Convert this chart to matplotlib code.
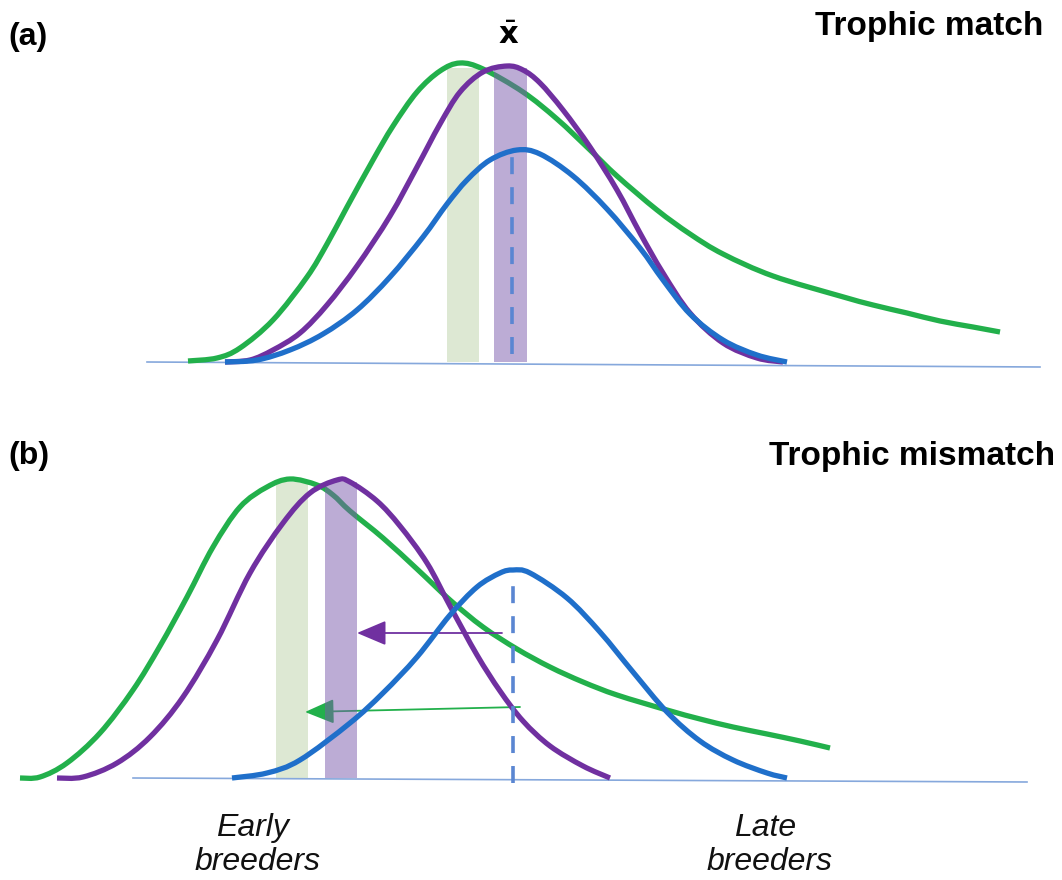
import matplotlib
matplotlib.use("Agg")
import matplotlib.pyplot as plt
from matplotlib.path import Path
from matplotlib.patches import PathPatch

W, H = 1062, 880

# ---------------- data (x = timing, y = height above baseline) ----------------
# Panel (a): trophic match
a_green_x = [188, 217, 240, 273, 307, 327, 347, 373, 393, 417, 440, 460, 483, 523, 557, 590, 617, 657, 690, 723, 773, 840, 873, 907, 940, 973, 1000]
a_green_y = [1, 4, 14, 42, 85, 118, 155, 202, 236, 270, 291, 299, 293, 270, 243, 212, 186, 152, 128, 108, 86, 66, 57, 49, 41, 35, 30]
a_purple_x = [225, 250, 273, 300, 327, 357, 390, 417, 440, 460, 483, 507, 523, 540, 563, 590, 617, 640, 663, 690, 723, 757, 783]
a_purple_y = [0, 2, 12, 29, 57, 96, 146, 195, 238, 270, 290, 296, 292, 279, 252, 215, 172, 129, 89, 49, 19, 4, 0]
a_blue_x = [225, 257, 290, 323, 357, 390, 423, 447, 467, 490, 517, 540, 573, 607, 640, 663, 690, 723, 757, 787]
a_blue_y = [0, 2, 12, 28, 52, 85, 125, 158, 182, 202, 212, 208, 186, 153, 114, 82, 48, 22, 7, 0]
a_base_x = [147, 1040]
a_base_y = [0, -5]
a_green_band = (447, 479, 294)
a_purple_band = (494, 527, 294)
a_mean_x = 512
a_mean_y = (8, 205)

# Panel (b): trophic mismatch
b_green_x = [20, 40, 67, 100, 133, 160, 187, 213, 240, 267, 290, 317, 333, 350, 383, 417, 450, 483, 517, 550, 583, 617, 667, 700, 733, 767, 800, 830]
b_green_y = [0, 1, 15, 45, 88, 132, 181, 231, 271, 291, 299, 293, 283, 267, 240, 209, 178, 151, 129, 111, 96, 83, 68, 59, 51, 44, 37, 30]
b_purple_x = [57, 83, 117, 150, 183, 217, 250, 283, 310, 337, 350, 377, 400, 427, 450, 477, 500, 523, 550, 583, 610]
b_purple_y = [0, 1, 15, 41, 81, 138, 205, 255, 285, 298, 296, 277, 252, 215, 172, 123, 87, 57, 32, 12, 0]
b_blue_x = [232, 267, 300, 350, 383, 417, 450, 477, 500, 513, 530, 567, 600, 633, 667, 700, 733, 767, 787]
b_blue_y = [0, 5, 18, 55, 85, 121, 163, 191, 205, 208, 205, 180, 146, 106, 66, 37, 18, 5, 0]
b_base_x = [133, 1027]
b_base_y = [0, -4]
b_green_band = (276, 308, 296)
b_purple_band = (325, 357, 296)
b_mean_x = 513
b_mean_y = (-5, 193)
b_purple_arrow = ((502, 145), (357, 145))
b_green_arrow = ((520, 71), (305, 66))

GREEN = "#22b04b"
PURPLE = "#7030a0"
BLUE = "#1f6fca"
BASE = "#86a8dc"
DASH = "#5a86d2"

fig = plt.figure(figsize=(W / 100, H / 100), dpi=100)


def make_axes(top_row, bottom_row, base_row):
    ax = fig.add_axes([0, (H - bottom_row) / H, 1, (bottom_row - top_row) / H])
    ax.set_xlim(0, W)
    ax.set_ylim(base_row - bottom_row, base_row - top_row)
    ax.axis("off")
    return ax


def smooth_line(ax, xs, ys, color, lw, z):
    """Smooth curve through the read points (Catmull-Rom as Bezier path)."""
    pts = list(zip(xs, ys))
    verts = [pts[0]]
    codes = [Path.MOVETO]
    n = len(pts)
    for i in range(n - 1):
        p0 = pts[i - 1] if i > 0 else pts[i]
        p1 = pts[i]
        p2 = pts[i + 1]
        p3 = pts[i + 2] if i + 2 < n else pts[i + 1]
        c1 = (p1[0] + (p2[0] - p0[0]) / 6, p1[1] + (p2[1] - p0[1]) / 6)
        c2 = (p2[0] - (p3[0] - p1[0]) / 6, p2[1] - (p3[1] - p1[1]) / 6)
        verts += [c1, c2, p2]
        codes += [Path.CURVE4] * 3
    patch = PathPatch(Path(verts, codes), facecolor="none", edgecolor=color,
                      lw=lw, capstyle="butt", joinstyle="round", zorder=z)
    ax.add_patch(patch)


def panel(ax, gx, gy, px, py, bx, by, basex, basey, gband, pband, mx, my):
    ax.plot(basex, basey, color=BASE, lw=1.2, zorder=1)
    ax.bar((gband[0] + gband[1]) / 2, gband[2], width=gband[1] - gband[0],
           color="#dde8d3", zorder=0.5, linewidth=0)
    smooth_line(ax, gx, gy, GREEN, 3.8, 2)
    ax.bar((pband[0] + pband[1]) / 2, pband[2], width=pband[1] - pband[0],
           color="#7a5aac", alpha=0.5, zorder=3, linewidth=0)
    smooth_line(ax, px, py, PURPLE, 3.8, 4)
    smooth_line(ax, bx, by, BLUE, 3.8, 5)
    ax.plot([mx, mx], list(my), color=DASH, lw=2.6, dashes=(4.7, 3.6),
            zorder=6)


ax_a = make_axes(0, 420, 362)
panel(ax_a, a_green_x, a_green_y, a_purple_x, a_purple_y, a_blue_x, a_blue_y,
      a_base_x, a_base_y, a_green_band, a_purple_band, a_mean_x, a_mean_y)

ax_b = make_axes(420, 880, 778)
panel(ax_b, b_green_x, b_green_y, b_purple_x, b_purple_y, b_blue_x, b_blue_y,
      b_base_x, b_base_y, b_green_band, b_purple_band, b_mean_x, b_mean_y)

for (start, end), col in ((b_purple_arrow, PURPLE), (b_green_arrow, GREEN)):
    ax_b.annotate("", xy=end, xytext=start,
                  arrowprops=dict(arrowstyle="-|>,head_length=1.3,head_width=0.55",
                                  color=col, lw=1.3, shrinkA=0, shrinkB=0,
                                  mutation_scale=14),
                  zorder=2.5)


def ftext(x, y, s, **kw):
    fig.text(x / W, 1 - y / H, s, **kw)


bold = dict(fontweight="bold", family="Liberation Sans", color="black")
ftext(8, 37, "(a)", ha="left", va="center", fontsize=23, **bold)
ftext(8, 456, "(b)", ha="left", va="center", fontsize=23, **bold)
ftext(1043, 26, "Trophic match", ha="right", va="center", fontsize=24, **bold)
ftext(1055, 456, "Trophic mismatch", ha="right", va="center", fontsize=24, **bold)
ftext(509, 35, r"$\bar{\mathbf{x}}$", ha="center", va="center", fontsize=22,
      color="black")

ital = dict(style="italic", family="Liberation Sans", color="#111111",
            fontsize=23, ha="center", va="center")
ftext(252, 828, "Early", **ital)
ftext(258, 862, "breeders", **ital)
ftext(765, 828, "Late", **ital)
ftext(770, 862, "breeders", **ital)

fig.savefig("out.png", dpi=100, facecolor="white")
